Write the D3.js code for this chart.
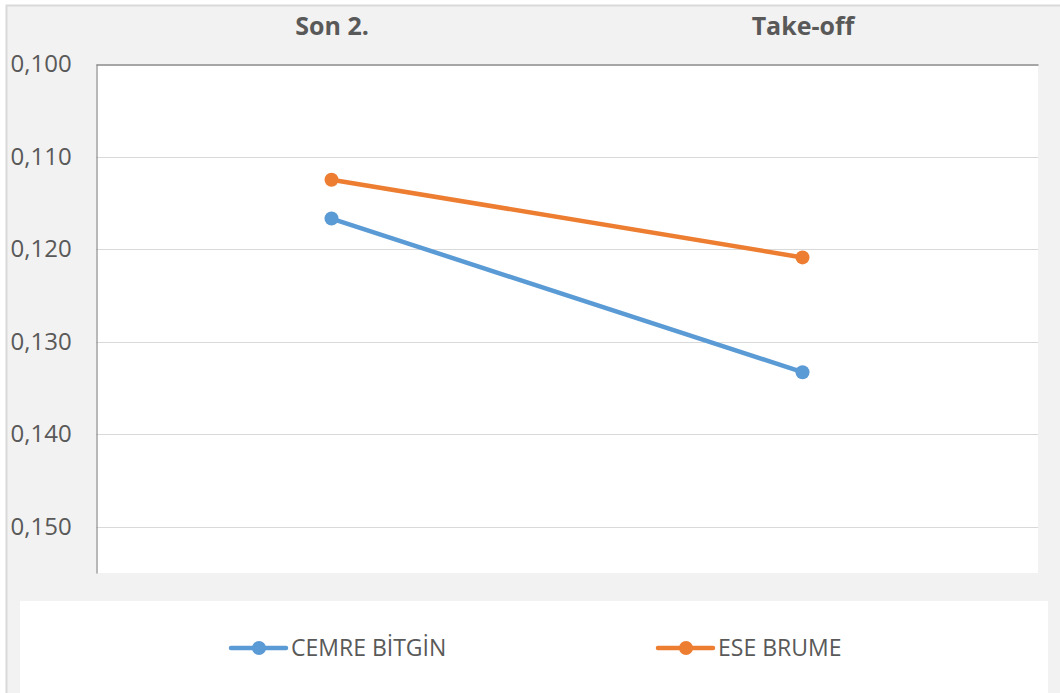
<!DOCTYPE html>
<html><head><meta charset="utf-8">
<script src="https://cdn.jsdelivr.net/npm/d3@7"></script>
<style>body{margin:0;background:#fff}svg{display:block}</style>
</head><body>
<svg id="c" width="1060" height="693"></svg>
<script>
const categories = ["Son 2.", "Take-off"];
const seriesNames = ["CEMRE BİTGİN", "ESE BRUME"];
const cemre = [0.1167, 0.1333];
const ese = [0.1125, 0.1209];
const yTicks = [0.100, 0.110, 0.120, 0.130, 0.140, 0.150];
const colors = ["#5b9bd5", "#ed7d31"];

const svg = d3.select("#c");
const font = "'Open Sans', 'Noto Sans', sans-serif";
svg.append("rect").attr("x",6.5).attr("y",5.5).attr("width",1060).attr("height",700)
  .attr("fill","#f2f2f2").attr("stroke","#d9d9d9").attr("stroke-width",2);

const L=96, R=1038, T=64, B=573;
const x = d3.scalePoint().domain(categories).range([L,R]).padding(0.5);
const y = d3.scaleLinear().domain([0.100,0.155]).range([T,B]);

svg.append("rect").attr("x",L).attr("y",T).attr("width",R-L).attr("height",B-T).attr("fill","#fff");

// gridlines
svg.append("g").selectAll("line").data(yTicks.slice(1)).join("line")
  .attr("x1",L).attr("x2",R).attr("y1",d=>Math.round(y(d))+0.5).attr("y2",d=>Math.round(y(d))+0.5)
  .attr("stroke","#d9d9d9").attr("stroke-width",1);

// y axis
const fmt = d => d3.format(".3f")(d).replace(".", ",");
const yAxis = d3.axisLeft(y).tickValues(yTicks).tickFormat(fmt).tickSize(0).tickPadding(0);
const gy = svg.append("g").attr("transform",`translate(${L+0.5},0)`).call(yAxis);
gy.select(".domain").attr("stroke","#898989").attr("stroke-width",1.2);
gy.selectAll("text").attr("x",-86).attr("text-anchor","start")
  .attr("font-family",font).attr("font-size",24).attr("fill","#595959");

// x axis on top
const xAxis = d3.axisTop(x).tickSize(0).tickPadding(0);
const gx = svg.append("g").attr("transform",`translate(0,${T+0.5})`).call(xAxis);
gx.select(".domain").attr("stroke","#898989").attr("stroke-width",1.5);
gx.selectAll("text").attr("y",-30).attr("dy",0)
  .attr("font-family",font).attr("font-size",25).attr("font-weight","bold").attr("fill","#595959");

// series
const series = [cemre, ese];
const line = d3.line().x((d,i)=>x(categories[i])).y(d=>y(d));
series.forEach((s,k)=>{
  svg.append("path").datum(s).attr("d",line).attr("fill","none")
    .attr("stroke",colors[k]).attr("stroke-width",4.5).attr("stroke-linecap","round");
  svg.append("g").selectAll("circle").data(s).join("circle")
    .attr("cx",(d,i)=>x(categories[i])).attr("cy",d=>y(d)).attr("r",7).attr("fill",colors[k]);
});

// legend
svg.append("rect").attr("x",20).attr("y",601).attr("width",1028).attr("height",100).attr("fill","#fff");
const legX = [231, 658];
seriesNames.forEach((n,k)=>{
  const g = svg.append("g").attr("transform",`translate(${legX[k]},648)`);
  g.append("line").attr("x1",0).attr("x2",55).attr("stroke",colors[k]).attr("stroke-width",4.5).attr("stroke-linecap","round");
  g.append("circle").attr("cx",28).attr("r",7).attr("fill",colors[k]);
  g.append("text").attr("x",60).attr("y",0).attr("dy","0.36em").text(n)
    .attr("font-family",font).attr("font-size",23).attr("fill","#595959");
});
</script>
</body></html>
